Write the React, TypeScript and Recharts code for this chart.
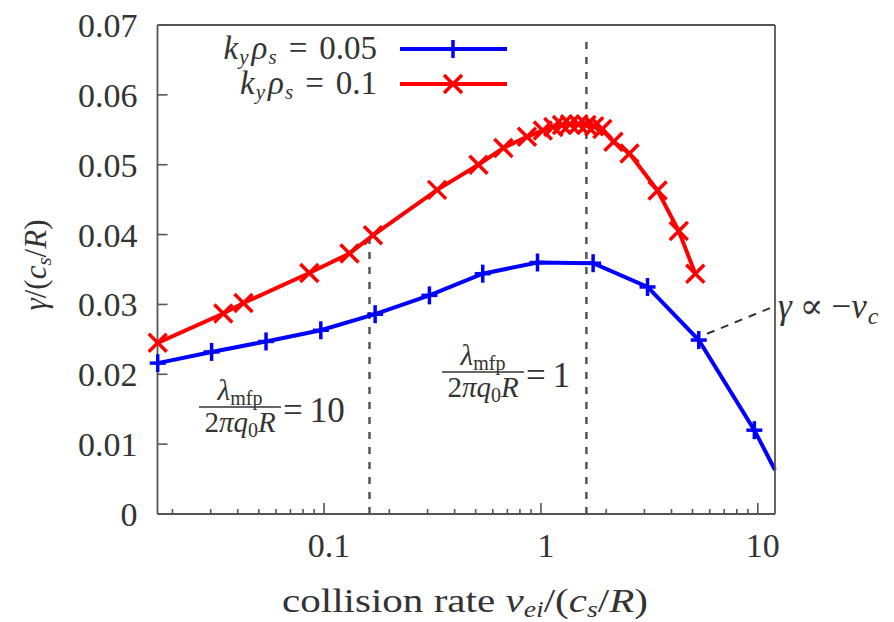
import React from 'react';
import { LineChart, Line, XAxis, YAxis, ReferenceLine, Legend } from 'recharts';

// k_y rho_s = 0.05 (blue, +)
const blueX = [0.0171, 0.0303, 0.054, 0.0966, 0.172, 0.306, 0.539, 0.964, 1.74, 3.1, 5.34, 9.64, 12.0];
const blueY = [0.0216, 0.0232, 0.0247, 0.0263, 0.0286, 0.0313, 0.0344, 0.036, 0.0359, 0.0325, 0.0249, 0.012, 0.0063];

// k_y rho_s = 0.1 (red, x)
const redX = [
  0.0171, 0.0343, 0.0425, 0.0855, 0.131, 0.168, 0.332, 0.515, 0.671, 0.862, 1.02, 1.14,
  1.25, 1.36, 1.49, 1.62, 1.76, 1.92, 2.16, 2.56, 3.45, 4.32, 5.15,
];
const redY = [
  0.0245, 0.0287, 0.0302, 0.0345, 0.0373, 0.0399, 0.0464, 0.05, 0.0524, 0.054, 0.0549, 0.0554,
  0.0557, 0.0558, 0.0558, 0.0557, 0.0555, 0.0551, 0.0533, 0.0516, 0.0463, 0.0405, 0.0344,
];

const legendValues = ['0.05', '0.1'];

const xMajor = [0.1, 1, 10];
const xMinor = [
  0.02, 0.03, 0.04, 0.05, 0.06, 0.07, 0.08, 0.09,
  0.2, 0.3, 0.4, 0.5, 0.6, 0.7, 0.8, 0.9,
  2, 3, 4, 5, 6, 7, 8, 9,
];
const yTicks = [0, 0.01, 0.02, 0.03, 0.04, 0.05, 0.06, 0.07];

// lambda_mfp / (2 pi q0 R) = 10 and = 1
const lambdaX = [0.162, 1.62];
const lambdaTop = [0.0405, 0.068];
// gamma ~ -nu_c guide
const guideX = [5.83, 11.86];
const guideY = [0.0258, 0.0297];

const X_DOMAIN = [0.01706, 12.0];

const BLUE = '#0000ff';
const RED = '#ff0000';
const AXIS = '#555';
const TEXT = '#333';
const FONT = '"Liberation Serif", "DejaVu Serif", serif';

const blueData = blueX.map((x, i) => ({ x, y: blueY[i] }));
const redData = redX.map((x, i) => ({ x, y: redY[i] }));
const xTicks = [...xMinor, ...xMajor].sort((a, b) => a - b);

const BottomTick = (props: any) => {
  const { x, y, payload } = props;
  const major = xMajor.includes(payload.value);
  return (
    <g>
      <line x1={x} x2={x} y1={y} y2={y - (major ? 11 : 5)} stroke={AXIS} strokeWidth={1.6} />
      {major && (
        <text x={x + 5} y={y + 43} textAnchor="middle" fontSize={34} fill={TEXT} fontFamily={FONT}>
          {String(payload.value)}
        </text>
      )}
    </g>
  );
};

const TopTick = (props: any) => {
  const { x, y, payload } = props;
  const major = xMajor.includes(payload.value);
  return <line x1={x} x2={x} y1={y} y2={y + (major ? 11 : 5)} stroke={AXIS} strokeWidth={1.6} />;
};

const LeftTick = (props: any) => {
  const { x, y, payload } = props;
  return (
    <g>
      <line x1={x} x2={x + 10} y1={y} y2={y} stroke={AXIS} strokeWidth={1.6} />
      <text x={x - 20} y={y + 12} textAnchor="end" fontSize={34} fill={TEXT} fontFamily={FONT}>
        {String(payload.value)}
      </text>
    </g>
  );
};

const RightTick = (props: any) => {
  const { x, y } = props;
  return <line x1={x} x2={x - 10} y1={y} y2={y} stroke={AXIS} strokeWidth={1.6} />;
};

const plus = (cx: number, cy: number, key: string) => (
  <g key={key}>
    <line x1={cx - 8} x2={cx + 8} y1={cy} y2={cy} stroke={BLUE} strokeWidth={3.5} />
    <line x1={cx} x2={cx} y1={cy - 9} y2={cy + 9} stroke={BLUE} strokeWidth={3.5} />
  </g>
);

const cross = (cx: number, cy: number, key: string) => (
  <g key={key}>
    <line x1={cx - 9} x2={cx + 9} y1={cy - 9} y2={cy + 9} stroke={RED} strokeWidth={3.5} />
    <line x1={cx - 9} x2={cx + 9} y1={cy + 9} y2={cy - 9} stroke={RED} strokeWidth={3.5} />
  </g>
);

const PlusDot = (props: any) => {
  const { cx, cy, index } = props;
  // the last blue point sits where the curve leaves the frame: no marker there
  if (cx == null || index === blueX.length - 1) return <g key={`b${index}`} />;
  return plus(cx, cy, `b${index}`);
};

const CrossDot = (props: any) => {
  const { cx, cy, index } = props;
  if (cx == null) return <g key={`r${index}`} />;
  return cross(cx, cy, `r${index}`);
};

const renderLegend = () => (
  <svg width={340} height={80} style={{ display: 'block', overflow: 'visible' }}>
    {legendValues.map((v, i) => {
      const y = 29 + i * 35;
      const color = i === 0 ? BLUE : RED;
      return (
        <g key={v}>
          <text x={197} y={y + 10} textAnchor="end" fontSize={33} fill={TEXT} fontFamily={FONT}>
            <tspan fontStyle="italic">k</tspan>
            <tspan fontStyle="italic" fontSize={21} dy={5} dx={1}>y</tspan>
            <tspan fontStyle="italic" dy={-5} dx={3}>ρ</tspan>
            <tspan fontStyle="italic" fontSize={21} dy={5} dx={1}>s</tspan>
            <tspan dy={-5} dx={12}>=</tspan>
            <tspan dx={12}>{v}</tspan>
          </text>
          <line x1={220} x2={327} y1={y} y2={y} stroke={color} strokeWidth={4} />
          {i === 0 ? plus(273, y, 'lp') : cross(273, y, 'lc')}
        </g>
      );
    })}
  </svg>
);

const Fraction = ({ cx, barY, rhs }: { cx: number; barY: number; rhs: string }) => (
  <g fontFamily={FONT} fill={TEXT}>
    <text x={cx} y={barY - 7} textAnchor="middle" fontSize={29}>
      <tspan fontStyle="italic">λ</tspan>
      <tspan fontSize={20} dy={5}>mfp</tspan>
    </text>
    <line x1={cx - 41} x2={cx + 41} y1={barY} y2={barY} stroke={TEXT} strokeWidth={1.5} />
    <text x={cx} y={barY + 25} textAnchor="middle" fontSize={29}>
      2<tspan fontStyle="italic">πq</tspan>
      <tspan fontSize={20} dy={5}>0</tspan>
      <tspan fontStyle="italic" dy={-5}>R</tspan>
    </text>
    <text x={cx + 43} y={barY + 15} fontSize={35}>
      =<tspan dx={7}>{rhs}</tspan>
    </text>
  </g>
);

const App: React.FC = () => {
  return (
    <div style={{ position: 'absolute', left: 0, top: 0, width: 894, height: 622, background: '#fff' }}>
      <LineChart width={894} height={622} margin={{ top: 24, right: 118, bottom: 0, left: 0 }}>
        <XAxis
          xAxisId="bottom"
          dataKey="x"
          type="number"
          scale="log"
          domain={X_DOMAIN}
          ticks={xTicks}
          interval={0}
          height={108}
          tickSize={0}
          tickMargin={0}
          tickLine={false}
          stroke={AXIS}
          strokeWidth={1.8}
          tick={<BottomTick />}
        />
        <XAxis
          xAxisId="top"
          orientation="top"
          dataKey="x"
          type="number"
          scale="log"
          domain={X_DOMAIN}
          ticks={xTicks}
          interval={0}
          height={1}
          tickSize={0}
          tickMargin={0}
          tickLine={false}
          stroke={AXIS}
          strokeWidth={1.8}
          tick={<TopTick />}
        />
        <YAxis
          yAxisId="left"
          type="number"
          domain={[0, 0.07]}
          ticks={yTicks}
          interval={0}
          width={157.5}
          tickSize={0}
          tickMargin={0}
          tickLine={false}
          stroke={AXIS}
          strokeWidth={1.8}
          tick={<LeftTick />}
        />
        <YAxis
          yAxisId="right"
          orientation="right"
          type="number"
          domain={[0, 0.07]}
          ticks={yTicks}
          interval={0}
          width={1}
          tickSize={0}
          tickMargin={0}
          tickLine={false}
          stroke={AXIS}
          strokeWidth={1.8}
          tick={<RightTick />}
        />
        {lambdaX.map((x, i) => (
          <ReferenceLine
            key={`lam${i}`}
            xAxisId="bottom"
            yAxisId="left"
            segment={[{ x, y: 0 }, { x, y: lambdaTop[i] }]}
            stroke="#555"
            strokeWidth={2.5}
            strokeDasharray="7 8"
          />
        ))}
        <ReferenceLine
          xAxisId="bottom"
          yAxisId="left"
          segment={[{ x: guideX[0], y: guideY[0] }, { x: guideX[1], y: guideY[1] }]}
          stroke="#333"
          strokeWidth={2}
          strokeDasharray="8 7"
        />
        <Line
          xAxisId="bottom"
          yAxisId="left"
          data={blueData}
          dataKey="y"
          name="k_y rho_s = 0.05"
          type="linear"
          stroke={BLUE}
          strokeWidth={4}
          dot={PlusDot}
          activeDot={false}
          isAnimationActive={false}
        />
        <Line
          xAxisId="bottom"
          yAxisId="left"
          data={redData}
          dataKey="y"
          name="k_y rho_s = 0.1"
          type="linear"
          stroke={RED}
          strokeWidth={4}
          dot={CrossDot}
          activeDot={false}
          isAnimationActive={false}
        />
        <Legend
          layout="horizontal"
          verticalAlign="middle"
          align="center"
          content={renderLegend}
          wrapperStyle={{ left: 180, top: 20, width: 340, height: 80 }}
        />
      </LineChart>
      <svg
        width={894}
        height={622}
        style={{ position: 'absolute', left: 0, top: 0, pointerEvents: 'none' }}
      >
        <Fraction cx={240} barY={407} rhs="10" />
        <Fraction cx={483} barY={372} rhs="1" />
        <text x={778} y={318} fontSize={35} fill={TEXT} fontFamily={FONT}>
          <tspan fontStyle="italic">γ</tspan>
          <tspan dx={8}>∝</tspan>
          <tspan dx={8}>−</tspan>
          <tspan fontStyle="italic">ν</tspan>
          <tspan fontStyle="italic" fontSize={24} dy={6} dx={1}>c</tspan>
        </text>
        <text
          x={465}
          y={612}
          textAnchor="middle"
          fontSize={34}
          textLength={366}
          lengthAdjust="spacingAndGlyphs"
          fill={TEXT}
          fontFamily={FONT}
        >
          collision rate <tspan fontStyle="italic">ν</tspan>
          <tspan fontStyle="italic" fontSize={23} dy={5}>ei</tspan>
          <tspan dy={-5}>/(</tspan>
          <tspan fontStyle="italic">c</tspan>
          <tspan fontStyle="italic" fontSize={23} dy={5}>s</tspan>
          <tspan dy={-5}>/</tspan>
          <tspan fontStyle="italic">R</tspan>
          <tspan>)</tspan>
        </text>
        <text
          transform="translate(46,265) rotate(-90)"
          x={0}
          y={0}
          textAnchor="middle"
          fontSize={31}
          fill={TEXT}
          fontFamily={FONT}
        >
          <tspan fontStyle="italic">γ</tspan>
          <tspan>/(</tspan>
          <tspan fontStyle="italic">c</tspan>
          <tspan fontStyle="italic" fontSize={21} dy={5}>s</tspan>
          <tspan dy={-5}>/</tspan>
          <tspan fontStyle="italic">R</tspan>
          <tspan>)</tspan>
        </text>
      </svg>
    </div>
  );
};

export default App;
